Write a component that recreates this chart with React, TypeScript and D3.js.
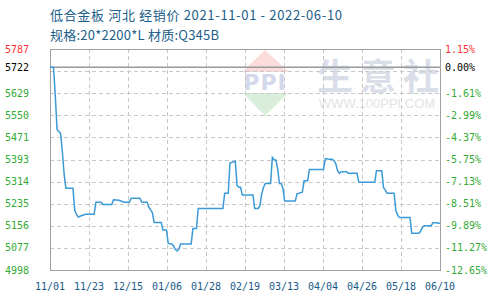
import React from "react";
import * as d3 from "d3";

const titleLine1 = "低合金板 河北 经销价 2021-11-01 - 2022-06-10";
const titleLine2 = "规格:20*2200*L 材质:Q345B";

const dates = [
  "2021-11-01","2021-11-03","2021-11-04","2021-11-05","2021-11-07","2021-11-08","2021-11-09","2021-11-10",
  "2021-11-14","2021-11-15","2021-11-16","2021-11-17","2021-11-18","2021-11-21","2021-11-26","2021-11-27",
  "2021-11-30","2021-12-01","2021-12-06","2021-12-07","2021-12-10","2021-12-13","2021-12-16","2021-12-17",
  "2021-12-22","2021-12-23","2021-12-26","2021-12-27","2021-12-29","2021-12-30","2022-01-03","2022-01-04",
  "2022-01-06","2022-01-07","2022-01-09","2022-01-10","2022-01-11","2022-01-12","2022-01-13","2022-01-14",
  "2022-01-20","2022-01-21","2022-01-23","2022-01-24","2022-02-07","2022-02-08","2022-02-10","2022-02-11",
  "2022-02-14","2022-02-15","2022-02-16","2022-02-17","2022-02-18","2022-02-24","2022-02-25","2022-02-27",
  "2022-02-28","2022-03-01","2022-03-02","2022-03-03","2022-03-06","2022-03-07","2022-03-08","2022-03-09",
  "2022-03-10","2022-03-11","2022-03-12","2022-03-13","2022-03-14","2022-03-20","2022-03-21","2022-03-24",
  "2022-03-25","2022-03-27","2022-03-28","2022-04-05","2022-04-06","2022-04-07","2022-04-08","2022-04-10",
  "2022-04-11","2022-04-12","2022-04-13","2022-04-14","2022-04-15","2022-04-18","2022-04-19","2022-04-24",
  "2022-04-25","2022-05-04","2022-05-05","2022-05-08","2022-05-09","2022-05-10","2022-05-11","2022-05-15",
  "2022-05-16","2022-05-17","2022-05-18","2022-05-24","2022-05-25","2022-05-29","2022-05-30","2022-05-31",
  "2022-06-01","2022-06-05","2022-06-06","2022-06-08","2022-06-09","2022-06-10",
];

const prices = [
  5722,5722,5620,5500,5485,5420,5340,5290,
  5290,5211,5197,5187,5190,5197,5197,5240,
  5240,5232,5232,5249,5247,5240,5240,5254,
  5254,5240,5240,5222,5203,5168,5168,5141,
  5141,5093,5091,5084,5072,5066,5072,5091,
  5091,5146,5146,5218,5218,5272,5272,5380,
  5386,5300,5293,5293,5266,5266,5218,5218,
  5230,5270,5293,5307,5307,5400,5391,5391,
  5360,5307,5307,5290,5244,5244,5270,5276,
  5317,5317,5357,5357,5395,5395,5393,5393,
  5388,5376,5352,5343,5349,5349,5343,5343,
  5311,5311,5352,5352,5292,5284,5272,5272,
  5210,5194,5185,5185,5129,5129,5136,5150,
  5156,5156,5167,5167,5165,5165,
];

const startDate = "2021-11-01";
const endDate = "2022-06-10";
const xTickLabels = ["11/01","11/23","12/15","01/06","01/28","02/19","03/13","04/04","04/26","05/18","06/10"];

const yMin = 4998;
const yMax = 5787;
const basePrice = 5722;
const leftLabels = ["5787","5722","5629","5550","5471","5393","5314","5235","5156","5077","4998"];
const leftLabelValues = [5787, 5722, 5629, 5550, 5471, 5393, 5314, 5235, 5156, 5077, 4998];
const rightLabels = ["1.15%","0.00%","-1.61%","-2.99%","-4.37%","-5.75%","-7.13%","-8.51%","-9.89%","-11.27%","-12.65%"];
const gridCount = 10;

const W = 490, H = 300;
const M = { left: 50, right: 440, top: 49, bottom: 270 };

export default function App() {
  const parse = d3.timeParse("%Y-%m-%d");
  const x = d3.scaleTime().domain([parse(startDate)!, parse(endDate)!]).range([M.left, M.right]);
  const y = d3.scaleLinear().domain([yMin, yMax]).range([M.bottom, M.top]);

  const pts = dates.map((d, i) => ({ t: parse(d)!, v: prices[i] }));
  const line = d3.line<{ t: Date; v: number }>().x((d) => x(d.t)).y((d) => y(d.v));

  const gridVals = d3.range(gridCount + 1).map((i) => yMin + ((yMax - yMin) * i) / gridCount);
  const t0 = parse(startDate)!.getTime();
  const t1 = parse(endDate)!.getTime();
  const xTicks = xTickLabels.map((_, i) => new Date(t0 + ((t1 - t0) * i) / (xTickLabels.length - 1)));

  const labelColor = (v: number) => (v > basePrice ? "#ff3333" : v === basePrice ? "#000000" : "#33aa33");
  const mono = "'DejaVu Sans Mono', 'Liberation Mono', monospace";
  const cjk = "'Noto Sans CJK SC', 'Noto Sans', sans-serif";

  return (
    <svg width={W} height={H} style={{ position: "absolute", left: 0, top: 0, background: "#fff" }}>
      {/* watermark */}
      <g>
        <polygon points="242,72 265,50 289,72" fill="#fbdcdc" />
        <polygon points="243,93 265,116 288,93" fill="#d9efdc" />
        <text x={265} y={90} textAnchor="middle" fontFamily="'DejaVu Sans', sans-serif" fontSize={22} fontWeight="bold" fill="#d3d9ea" letterSpacing={1}>PPI</text>
        <text x={335} y={90} textAnchor="middle" fontFamily={cjk} fontSize={36} fontWeight="bold" fill="#d9dee9">生</text>
        <text x={378} y={90} textAnchor="middle" fontFamily={cjk} fontSize={36} fontWeight="bold" fill="#d9dee9">意</text>
        <text x={421} y={90} textAnchor="middle" fontFamily={cjk} fontSize={36} fontWeight="bold" fill="#d9dee9">社</text>
        <text x={377} y={108} textAnchor="middle" fontFamily="'Liberation Sans', sans-serif" fontSize={13} fill="#e3e3e3">WWW.100PPI.COM</text>
      </g>

      {/* horizontal grid */}
      {gridVals.map((v, i) => (
        <line key={"h" + i} x1={M.left} x2={M.right} y1={Math.round(y(v)) + 0.5} y2={Math.round(y(v)) + 0.5} stroke="#c8c8c8" strokeDasharray="4,3" />
      ))}
      {/* vertical grid */}
      {xTicks.slice(1, -1).map((t, i) => (
        <line key={"v" + i} x1={Math.round(x(t)) + 0.5} x2={Math.round(x(t)) + 0.5} y1={M.top} y2={M.bottom} stroke="#c8c8c8" strokeDasharray="4,3" />
      ))}

      {/* base price line */}
      <line x1={M.left} x2={M.right} y1={y(basePrice)} y2={y(basePrice)} stroke="#9a9a9a" strokeWidth={1.5} />

      {/* frame */}
      <rect x={M.left + 0.5} y={M.top + 0.5} width={M.right - M.left} height={M.bottom - M.top} fill="none" stroke="#a0a0a0" strokeWidth={1} />

      {/* price line */}
      <path d={line(pts) || ""} fill="none" stroke="#3b9ad8" strokeWidth={1.5} strokeLinejoin="miter" />

      {/* left labels */}
      {leftLabels.map((s, i) => (
        <text key={"l" + i} x={5} y={y(leftLabelValues[i])} dy="0.35em" fontFamily={mono} fontSize={10} fill={labelColor(leftLabelValues[i])}>{s}</text>
      ))}
      {/* right labels */}
      {rightLabels.map((s, i) => (
        <text key={"r" + i} x={445} y={y(leftLabelValues[i])} dy="0.35em" fontFamily={mono} fontSize={10} fill={labelColor(leftLabelValues[i])}>{s}</text>
      ))}
      {/* x labels */}
      {xTicks.map((t, i) => (
        <text key={"x" + i} x={x(t)} y={290} textAnchor="middle" fontFamily={mono} fontSize={10} fill="#1a5a8a">{xTickLabels[i]}</text>
      ))}

      {/* titles */}
      <text x={50} y={20} fontFamily={cjk} fontSize={13} fill="#215e8a" textLength={292} lengthAdjust="spacing">{titleLine1}</text>
      <text x={50} y={40} fontFamily={cjk} fontSize={13} fill="#215e8a" textLength={169} lengthAdjust="spacing">{titleLine2}</text>
    </svg>
  );
}
